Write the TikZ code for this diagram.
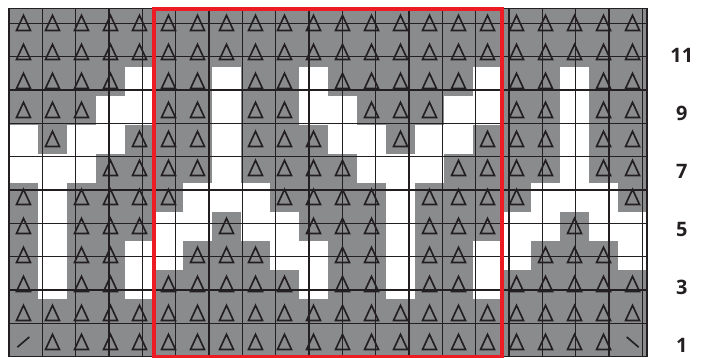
\documentclass[tikz,border=0pt]{standalone}
\usepackage{fontspec}
\setsansfont{Open Sans}
\usepackage{tikz}
\definecolor{stitchgray}{RGB}{138,139,141}
\definecolor{inkdark}{RGB}{35,31,32}
\definecolor{repeatred}{RGB}{237,28,36}

\begin{document}
\begin{tikzpicture}[x=0.87cm,y=0.87cm,
  cell/.style={fill=stitchgray},
  tri/.style={draw=inkdark,line width=1.4pt,line join=miter},
  gridline/.style={draw=inkdark,line width=1.2pt},
  repeatbox/.style={draw=repeatred,line width=3.4pt},
  rowlabel/.style={font=\sffamily\bfseries\fontsize{17}{20}\selectfont,text=inkdark},
  purl/.pic={\draw[tri] (-0.24,-0.25) -- (0,0.27) -- (0.24,-0.25) -- cycle;},
  slantr/.pic={\draw[tri] (-0.21,-0.17) -- (0.2,0.18);},
  slantl/.pic={\draw[tri] (-0.2,0.18) -- (0.21,-0.17);}
]
\useasboundingbox (-0.31,-0.04) rectangle (23.93,12.30);

% Chart cells, top row first (0 = empty, 1 = purl, 2/3 = slants)
\foreach \cells [count=\i] in {
  {1,1,1,1,1,1,1,1,1,1,1,1,1,1,1,1,1,1,1,1,1,1},
  {1,1,1,1,1,1,1,1,1,1,1,1,1,1,1,1,1,1,1,1,1,1},
  {1,1,1,1,0,1,1,0,1,1,0,1,1,1,1,1,0,1,1,0,1,1},
  {1,1,1,0,0,1,1,0,1,1,0,0,1,1,1,0,0,1,1,0,1,1},
  {0,1,0,0,1,1,1,0,1,1,1,0,0,1,0,0,1,1,1,0,1,1},
  {0,0,0,1,1,1,1,0,1,1,1,1,0,0,0,1,1,1,1,0,1,1},
  {1,0,1,1,1,1,0,0,0,1,1,1,1,0,1,1,1,1,0,0,0,1},
  {1,0,1,1,1,0,0,1,0,0,1,1,1,0,1,1,1,0,0,1,0,0},
  {1,0,1,1,0,0,1,1,1,0,0,1,1,0,1,1,0,0,1,1,1,0},
  {1,0,1,1,0,1,1,1,1,1,0,1,1,0,1,1,0,1,1,1,1,1},
  {1,1,1,1,1,1,1,1,1,1,1,1,1,1,1,1,1,1,1,1,1,1},
  {2,1,1,1,1,1,1,1,1,1,1,1,1,1,1,1,1,1,1,1,1,3}} {
  \pgfmathtruncatemacro\r{13-\i}
  \foreach \v [count=\c] in \cells {
    \ifnum\v>0 \fill[cell] (\c-1,\r-1) rectangle (\c,\r); \fi
    \ifnum\v=1 \pic at (\c-0.5,\r-0.5) {purl}; \fi
    \ifnum\v=2 \pic at (\c-0.5,\r-0.5) {slantr}; \fi
    \ifnum\v=3 \pic at (\c-0.5,\r-0.5) {slantl}; \fi
  }
}

% Grid
\draw[gridline] (0,0) grid (22,12);
\draw[gridline] (0,0) rectangle (22,12);

% Pattern repeat
\draw[repeatbox] (5,0) rectangle (17,12);

% Row numbers
\foreach \n in {1,3,...,11} {
  \node[rowlabel] (row\n) at (23.2,\n-0.6) {\n};
}

\end{tikzpicture}
\end{document}
